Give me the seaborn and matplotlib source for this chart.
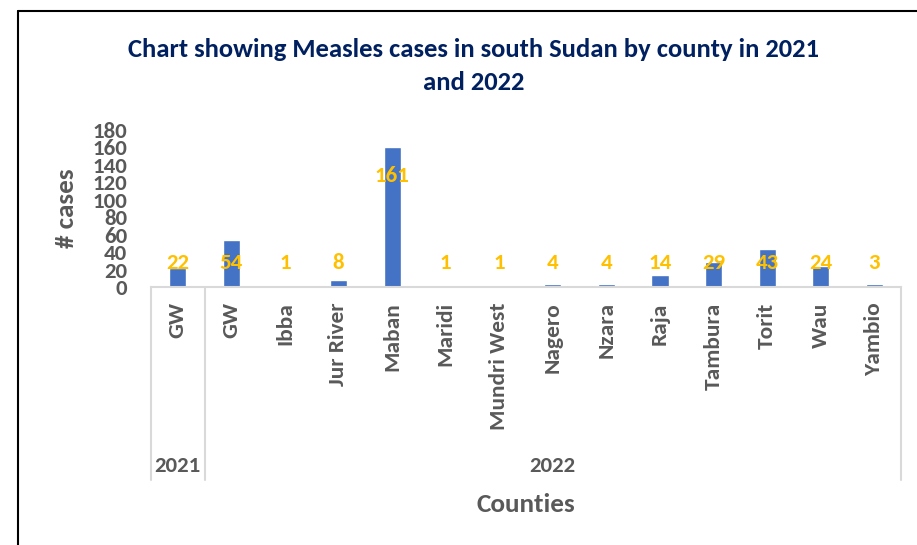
import matplotlib
matplotlib.use("Agg")
import matplotlib.pyplot as plt
from matplotlib.lines import Line2D
import seaborn as sns
import pandas as pd

years = ["2021", "2022", "2022", "2022", "2022", "2022", "2022", "2022",
         "2022", "2022", "2022", "2022", "2022", "2022"]
counties = ["GW", "GW", "Ibba", "Jur River", "Maban", "Maridi", "Mundri West",
            "Nagero", "Nzara", "Raja", "Tambura", "Torit", "Wau", "Yambio"]
cases = [22, 54, 1, 8, 161, 1, 1, 4, 4, 14, 29, 43, 24, 3]
year_groups = ["2021", "2022"]

title = "Chart showing Measles cases in south Sudan by county in 2021\nand 2022"
ylabel = "# cases"
xlabel = "Counties"

df = pd.DataFrame({"year": years, "county": counties, "cases": cases})
df["key"] = df["year"] + " " + df["county"]

sns.set_theme(style="white")
plt.rcParams["font.family"] = ["Carlito", "DejaVu Sans"]

GRAY = "#595959"
LINE = "#D9D9D9"
BLUE = "#4472C4"
GOLD = "#FFC000"
NAVY = "#002060"
FS = 16.5

fig = plt.figure(figsize=(9.17, 5.45), dpi=100)
ax = fig.add_axes([151 / 917, 1 - 287 / 545, 750 / 917, 157 / 545])

sns.barplot(data=df, x="key", y="cases", color=BLUE, width=0.32, ax=ax,
            saturation=1, errorbar=None)

ax.set_ylim(0, 180)
ax.set_yticks(range(0, 181, 20))
ax.set_xlim(-0.5, len(df) - 0.5)
ax.set_xticks(range(len(df)))
ax.set_xticklabels(df["county"], rotation=90, va="top", ha="center")
ax.tick_params(axis="x", length=0, pad=11, labelsize=16.8, labelcolor=GRAY)
ax.tick_params(axis="y", length=0, pad=17, labelsize=FS, labelcolor=GRAY)
for lab in ax.get_xticklabels() + ax.get_yticklabels():
    lab.set_fontweight("bold")

for s in ["top", "right", "left"]:
    ax.spines[s].set_visible(False)
ax.spines["bottom"].set_color(LINE)
ax.spines["bottom"].set_linewidth(1.5)

# data labels
for i, v in enumerate(df["cases"]):
    ax.text(i, max(v - 34, 27.5), str(v), ha="center", va="center",
            color=GOLD, fontsize=FS, fontweight="bold")

ax.set_ylabel(ylabel, fontsize=19.5, fontweight="bold", color=GRAY)
ax.yaxis.set_label_coords(-0.097, 0.5)
ax.set_xlabel(xlabel, fontsize=19.5, fontweight="bold", color=GRAY)
ax.xaxis.set_label_coords(0.5, -1.31)

# group separators and year labels
trans = ax.get_xaxis_transform()
bounds = [-0.5]
for g in year_groups:
    n = int((df["year"] == g).sum())
    start = bounds[-1]
    end = start + n
    bounds.append(end)
    ax.text((start + end) / 2, -1.14, g, transform=trans, ha="center",
            va="center", fontsize=FS, fontweight="bold", color=GRAY)
for b in bounds:
    ax.add_line(Line2D([b, b], [0, -1.229], transform=trans, color=LINE,
                       lw=1.5, clip_on=False))

fig.text(474 / 917, 1 - 66 / 545, title, ha="center", va="center",
         fontsize=19.2, fontweight="bold", color=NAVY, linespacing=1.5)

# chart border
fig.add_artist(Line2D([18 / 917, 18 / 917], [1 - 11 / 545, 0],
                      transform=fig.transFigure, color="black", lw=1.5))
fig.add_artist(Line2D([18 / 917, 1], [1 - 11 / 545, 1 - 11 / 545],
                      transform=fig.transFigure, color="black", lw=1.5))

fig.savefig("out.png", dpi=100)
